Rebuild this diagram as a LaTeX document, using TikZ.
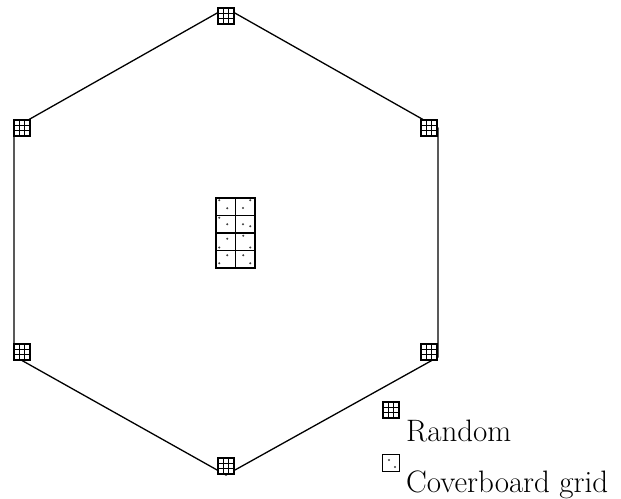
\documentclass[tikz,border=0pt]{standalone}
\usepackage{tikz}
\usetikzlibrary{calc, positioning}

\begin{document}
\begin{tikzpicture}[x=1pt, y=-1pt,
		% Hexagon outline
		hexline/.style={line width=1.3pt, line join=miter},
		% Random sample marker: square with a 3x3 grid inside
		randbox/.style={
			draw, line width=1.6pt, fill=white,
			minimum size=16pt, inner sep=0pt,
			path picture={
				\foreach \f in {0.333,0.667}{
					\draw[line width=0.8pt]
					($(path picture bounding box.south west)!\f!(path picture bounding box.south east)$) --
					($(path picture bounding box.north west)!\f!(path picture bounding box.north east)$);
					\draw[line width=0.8pt]
					($(path picture bounding box.south west)!\f!(path picture bounding box.north west)$) --
					($(path picture bounding box.south east)!\f!(path picture bounding box.north east)$);
				}
			}
		},
		% Coverboard cell
		covcell/.style={
			draw, line width=1.5pt, fill=white,
			minimum width=19.5pt, minimum height=17.5pt, inner sep=0pt
		},
		% Dot inside a coverboard cell
		dot/.style={fill=black!75},
		% Legend text
		legtext/.style={inner sep=0pt, font=\fontsize{31}{36}\selectfont}
		]
		
		\useasboundingbox (0,0) rectangle (621,498);
		
		% Define hexagon vertices
		\coordinate (vT) at (226,8);
		\coordinate (vUR) at (438,128);
		\coordinate (vLR) at (438,357);
		\coordinate (vB) at (226,475);
		\coordinate (vLL) at (14,356);
		\coordinate (vUL) at (14,128);
		
		% --- Hexagon ---
		\draw[hexline] (vT) -- (vUR) -- (vLR) -- (vB) -- (vLL) -- (vUL) -- cycle;
		
		% --- Random markers at the corners ---
		\node[randbox] (mT) at (226,16) {};
		\node[randbox] (mUR) at (429,128) {};
		\node[randbox] (mLR) at (429,352) {};
		\node[randbox] (mB) at (226,466) {};
		\node[randbox] (mLL) at (22,352) {};
		\node[randbox] (mUL) at (22,128) {};
		
		% --- Coverboard grid in the centre ---
		\foreach \r in {1,...,4}{
			\foreach \c in {1,2}{
				\node[covcell] (cell\r\c) at ({216+19.5*(\c-0.5)},{198+17.5*(\r-0.5)}) {};
			}
		}
		% dots in the cells (offsets in pt, y downwards)
		\foreach \cl/\ax/\ay/\bx/\by in {
			cell11/-6.5/-6.5/1.5/1.5, cell12/5/-6.5/-2.3/1.2,
			cell21/-6.5/-6.5/1.5/0, cell22/-2.3/0/5/2,
			cell31/1.5/-3/-6.5/5.7, cell32/-2/-6/5/5.7,
			cell41/1.5/-4/-6.5/4, cell42/-2/-4/5/4}{
			\fill[dot] ($(\cl)+(\ax,\ay)$) circle (1.1pt);
			\fill[dot] ($(\cl)+(\bx,\by)$) circle (1.1pt);
		}
		
		% --- Legend ---
		\node[randbox] (legR) at (391,410) {};
		\node[legtext, anchor=base west] (txtR) at (406,441) {Random};
		
		\node[covcell, minimum width=17pt, minimum height=17pt, line width=1.3pt] (legC) at (391,463) {};
		\fill[dot] ($(legC)+(-2,-3)$) circle (1.1pt);
		\fill[dot] ($(legC)+(4,4)$) circle (1.1pt);
		\node[legtext, anchor=base west] (txtC) at (406,492) {Coverboard grid};
		
	\end{tikzpicture}
\end{document}
